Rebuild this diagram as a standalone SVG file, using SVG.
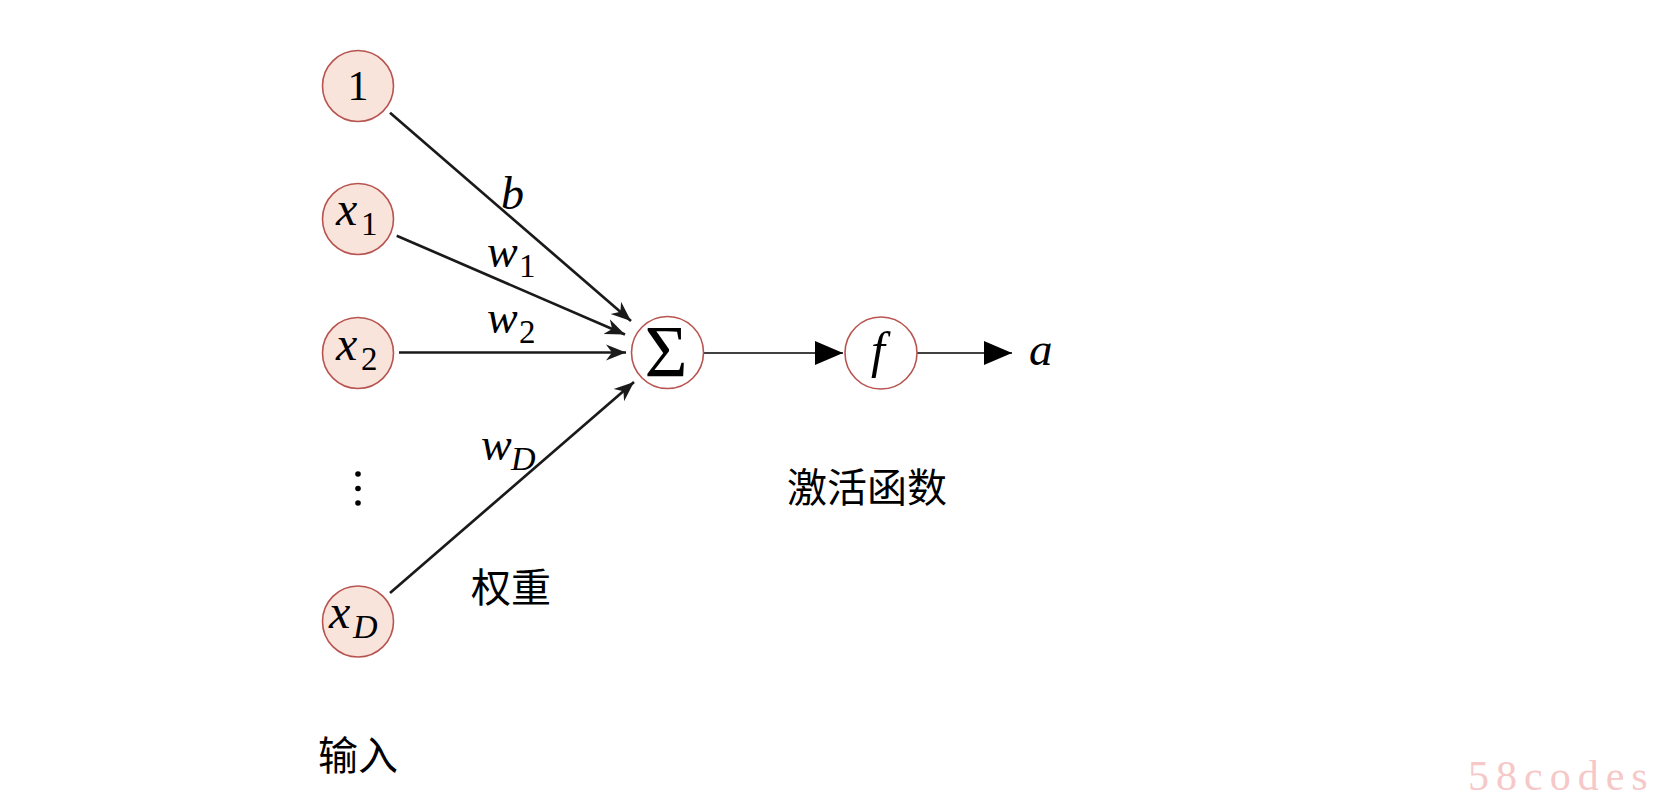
<svg xmlns="http://www.w3.org/2000/svg" width="1666" height="812" viewBox="0 0 1666 812">
<style>
.in{fill:#f9e4dc;stroke:#b85450;stroke-width:1.6}
.op{fill:#ffffff;stroke:#b85450;stroke-width:1.6}
.m{font-family:"Liberation Serif","Times New Roman",serif;font-style:italic;fill:#000}
.r{font-family:"Liberation Serif","Times New Roman",serif;fill:#000}
.cjk{font-family:"Liberation Serif","Noto Sans CJK SC",sans-serif;font-size:40px;fill:#000}
.e{stroke:#1a1a1a;stroke-width:2.7;fill:none;marker-end:url(#st)}
.e2{stroke:#000;stroke-width:1.5;fill:none;marker-end:url(#tri)}
</style>
<defs>
<marker id="st" markerUnits="userSpaceOnUse" markerWidth="22" markerHeight="18" refX="20" refY="8" orient="auto" viewBox="0 0 22 16">
<path d="M0,0 L20,8 L0,16 L6,8 Z" fill="#1a1a1a"/>
</marker>
<marker id="tri" markerUnits="userSpaceOnUse" markerWidth="30" markerHeight="26" refX="28" refY="12" orient="auto" viewBox="0 0 30 24">
<path d="M0,0 L28,12 L0,24 Z" fill="#000"/>
</marker>
</defs>
<rect width="1666" height="812" fill="#fff"/>
<g id="connectors">
<line class="e" x1="390" y1="112.7" x2="631" y2="321"/>
<line class="e" x1="396.7" y1="235.7" x2="625" y2="334.5"/>
<line class="e" x1="399" y1="352.5" x2="626" y2="352.5"/>
<line class="e" x1="390" y1="593" x2="634" y2="382"/>
<line class="e2" x1="703.5" y1="353" x2="843" y2="353"/>
<line class="e2" x1="917" y1="353" x2="1012" y2="353"/>
</g>
<g id="edge-labels">
<text class="m" x="501" y="209" font-size="46">b</text>
<text class="m" x="487" y="267" font-size="46">w</text><text class="r" x="519" y="277" font-size="33">1</text>
<text class="m" x="487" y="333" font-size="46">w</text><text class="r" x="519" y="343" font-size="33">2</text>
<text class="m" x="481" y="460" font-size="46">w</text><text class="m" x="511" y="470" font-size="34">D</text>
</g>
<g id="node-one">
<circle class="in" cx="358" cy="86" r="35.5"/>
<text class="r" x="358" y="100" font-size="42" text-anchor="middle">1</text>
</g>
<g id="node-x1">
<circle class="in" cx="358" cy="219" r="35.5"/>
<text class="m" x="336" y="225" font-size="48">x</text><text class="r" x="361" y="235" font-size="33">1</text>
</g>
<g id="node-x2">
<circle class="in" cx="358" cy="353" r="35.5"/>
<text class="m" x="336" y="360" font-size="48">x</text><text class="r" x="361" y="370" font-size="33">2</text>
</g>
<g id="node-dots">
<circle cx="358" cy="474" r="2.8" fill="#000"/>
<circle cx="358" cy="488.5" r="2.8" fill="#000"/>
<circle cx="358" cy="503" r="2.8" fill="#000"/>
</g>
<g id="node-xD">
<circle class="in" cx="358" cy="621.5" r="35.5"/>
<text class="m" x="329" y="628" font-size="48">x</text><text class="m" x="353" y="638" font-size="34">D</text>
</g>
<g id="node-sum">
<circle class="op" cx="667.5" cy="352.5" r="36"/>
<text class="r" x="666" y="377" font-size="74" text-anchor="middle">Σ</text>
</g>
<g id="node-f">
<circle class="op" cx="881" cy="353" r="36"/>
<text class="m" x="878" y="367" font-size="50" text-anchor="middle">f</text>
</g>
<g id="node-a">
<text class="m" x="1029" y="365" font-size="47">a</text>
</g>
<g id="labels">
<text class="cjk" x="318" y="770">输入</text>
<text class="cjk" x="471" y="602">权重</text>
<text class="cjk" x="787" y="502">激活函数</text>
</g>
<text x="1468" y="790" font-family="Liberation Serif, serif" font-size="42" fill="#f7c8c8" letter-spacing="7">58codes</text>
</svg>
